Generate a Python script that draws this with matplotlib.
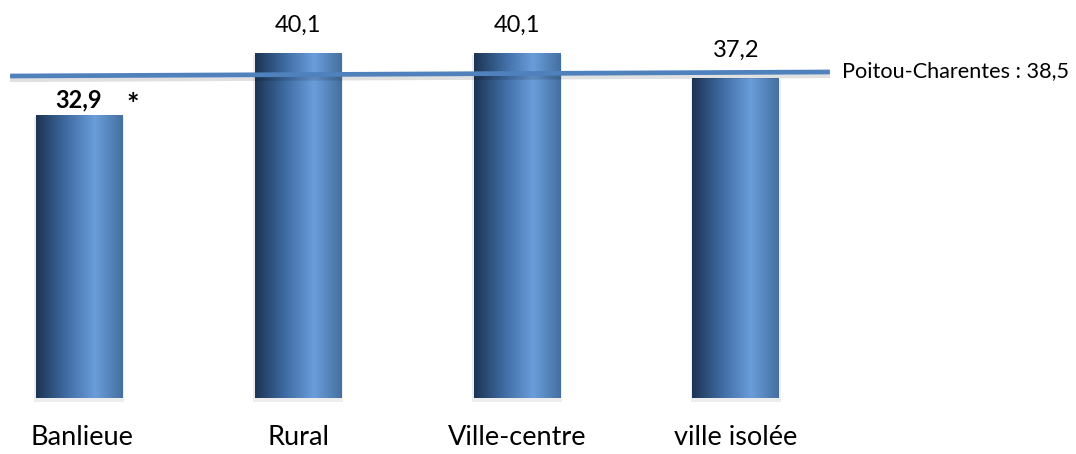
import numpy as np
import matplotlib.pyplot as plt
from matplotlib.colors import LinearSegmentedColormap

categories = ['Banlieue', 'Rural', 'Ville-centre', 'ville isolée']
values = [32.9, 40.1, 40.1, 37.2]
value_labels = ['32,9', '40,1', '40,1', '37,2']
region_value = 38.5
region_label = 'Poitou-Charentes : 38,5'

plt.rcParams['font.family'] = ['Lato', 'DejaVu Sans']

fig = plt.figure(figsize=(10.76, 4.54), dpi=100)
ax = fig.add_axes([0, 0, 1, 1])
ax.set_xlim(-0.361, 4.553)
ax.set_ylim(-6.5, 46.3)
ax.axis('off')

# cylinder-like horizontal gradient
cmap = LinearSegmentedColormap.from_list(
    'cyl', [(0, '#1c3454'), (0.35, '#3f6ca3'), (0.68, '#6a9ddb'), (1, '#44709f')])
grad = np.linspace(0, 1, 256).reshape(1, -1)
width = 0.397

for i, v in enumerate(values):
    # soft shadow under the bar
    ax.bar(i, v + 0.3, width=width + 0.015, bottom=-0.5, color='#000000', alpha=0.07, zorder=1)
    ax.imshow(grad, cmap=cmap, aspect='auto', zorder=2,
              extent=(i - width / 2, i + width / 2, 0, v), interpolation='bicubic')
    if i == 0:
        ax.text(i, v + 1.75, value_labels[i], ha='center', va='center',
                fontsize=17, fontweight='bold')
        ax.text(i + 0.245, v + 1.2, '*', ha='center', va='center',
                fontsize=21, fontweight='bold')
    else:
        ax.text(i, v + 3.3, value_labels[i], ha='center', va='center', fontsize=17)

label_x = [0.015, 1, 2, 3]
for x, c in zip(label_x, categories):
    ax.text(x, -4.6, c, ha='center', va='center', fontsize=19.5)

# regional average line (drawn slightly tilted as in the source)
line_x = [-0.315, 3.429]
line_y = [region_value - 1.04, region_value - 0.57]
ax.plot(line_x, [y - 0.35 for y in line_y], color='#000000', alpha=0.12, lw=4.5,
        zorder=3, solid_capstyle='butt')
ax.plot(line_x, line_y, color='#4f81bd', lw=3.4, zorder=4, solid_capstyle='butt')
ax.text(3.485, region_value - 0.45, region_label, ha='left', va='center', fontsize=15.6)

fig.savefig('out.png', dpi=100)
